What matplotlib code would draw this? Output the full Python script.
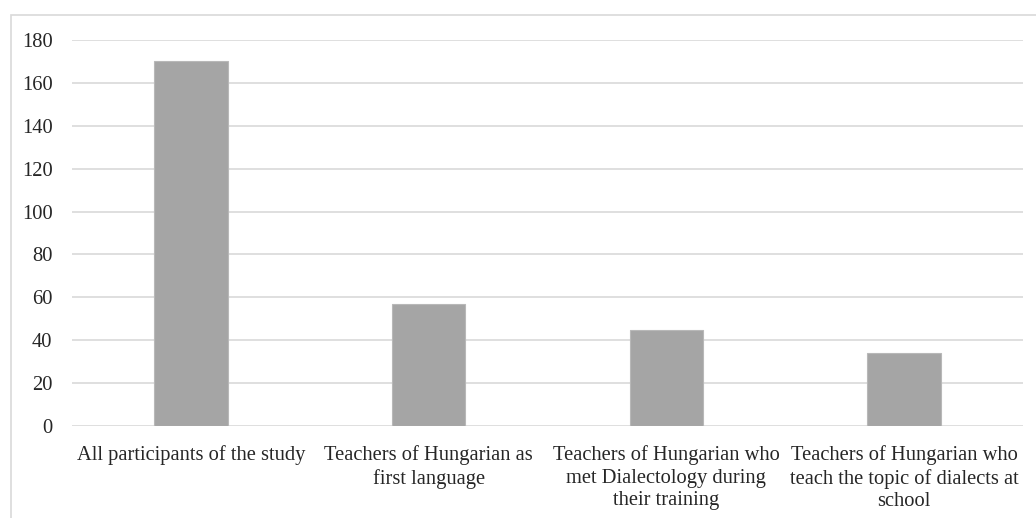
import matplotlib
matplotlib.use("Agg")
import matplotlib.pyplot as plt
from matplotlib.patches import Rectangle

categories = [
    "All participants of the study",
    "Teachers of Hungarian as\nfirst language",
    "Teachers of Hungarian who\nmet Dialectology during\ntheir training",
    "Teachers of Hungarian who\nteach the topic of dialects at\nschool",
]
values = [170, 57, 45, 34]
yticks = [0, 20, 40, 60, 80, 100, 120, 140, 160, 180]

W, H = 1036, 518
fig = plt.figure(figsize=(W / 100, H / 100), dpi=100)
plt.rcParams['font.family'] = ['Liberation Serif', 'DejaVu Serif']

# outer frame
fig.patches.append(Rectangle((10.5 / W, -0.1), 1.2, (H - 14.5) / H + 0.1,
                             transform=fig.transFigure, fill=False,
                             edgecolor='#D9D9D9', linewidth=1.2))

ax = fig.add_axes([72 / W, 92 / H, (1023 - 72) / W, 386 / H])
x = list(range(len(categories)))
ax.bar(x, values, width=0.31, color='#A5A5A5', edgecolor='#B8B8B8', linewidth=0.8, zorder=3)
ax.set_xlim(-0.5, len(categories) - 0.5)
ax.set_ylim(0, 180)
ax.set_yticks(yticks)
ax.set_yticklabels([str(v) for v in yticks])
ax.set_xticks(x)
ax.set_xticklabels(categories, linespacing=1.25)
for s in ax.spines.values():
    s.set_visible(False)
ax.grid(axis='y', color='#D9D9D9', linewidth=1.2, zorder=0)
ax.tick_params(axis='both', length=0, labelsize=14.8, colors='#262626')
ax.tick_params(axis='y', pad=14)
ax.tick_params(axis='x', pad=14)

fig.savefig("out.png", dpi=100)
